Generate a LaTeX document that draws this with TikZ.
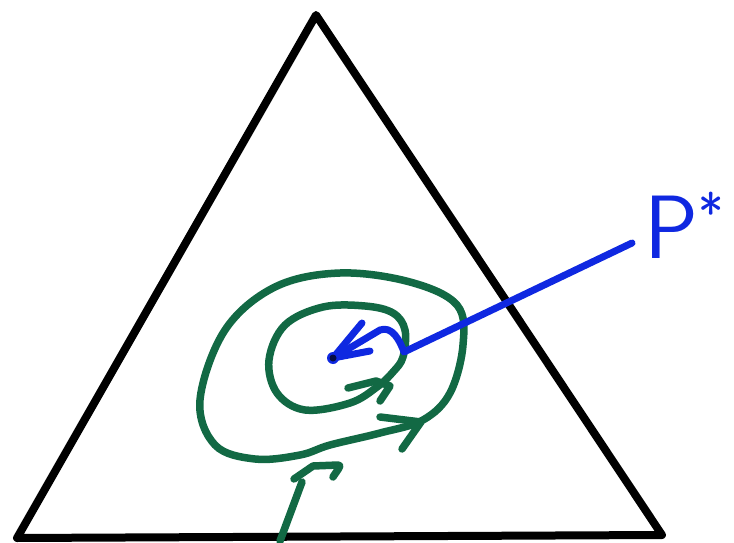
\documentclass[tikz,border=0pt]{standalone}
\usetikzlibrary{calc}
\definecolor{pgreen}{RGB}{18,105,68}
\definecolor{pblue}{RGB}{15,40,225}
\tikzset{
  tri/.style={line width=8pt, line join=round, line cap=round, black},
  gpen/.style={line width=7.5pt, line cap=round, line join=round, pgreen},
  bpen/.style={line width=7pt, line cap=round, line join=round, pblue},
  lab/.style={pblue, font=\fontsize{90}{90}\selectfont\sffamily, inner sep=0pt}
}
\begin{document}
\begin{tikzpicture}[x=1pt,y=-1pt]
\useasboundingbox (0,0) rectangle (734,543);
% triangle
\coordinate (top) at (316,15);
\coordinate (bl) at (17,538);
\coordinate (br) at (662,535);
\draw[tri] (top) -- (br) -- (bl) -- cycle;
% entry line and its arrow mark
\coordinate (entryA) at (280,541);
\coordinate (entryB) at (302,482);
\draw[gpen] (entryA) -- (entryB);
\draw[gpen] (294,479) -- (313,466) -- (338,465) to[out=10,in=60] (333,477);
% outer loop
\draw[gpen] plot[smooth cycle, tension=0.6] coordinates {
  (330,445) (380,433) (423,420) (450,393) (463,345) (457,305) (410,282)
  (340,273) (275,287) (225,330) (200,400) (215,445) (255,459) (300,455)};
\draw[gpen] (380,417) -- (421,422) -- (402,449);
% inner loop
\draw[gpen] plot[smooth cycle, tension=0.6] coordinates {
  (403,357) (405,330) (393,313) (365,306) (323,307) (285,325) (269,360)
  (277,393) (305,410) (350,403) (377,387) (393,372)};
\draw[gpen] (348,388) -- (376,381) -- (390,386) -- (380,401);
% P* label and blue arrow
\node[lab, anchor=base west] (pstar) at (644,258) {P\raisebox{26pt}{\fontsize{54}{54}\selectfont *}};
\coordinate (tail) at (632,243);
\coordinate (tip) at (333,358);
\draw[bpen] (tail) -- (404,352) to[out=110,in=20] (380,330) -- (tip);
\draw[bpen] (tip) -- (362,323);
\draw[bpen] (tip) -- (370,351);
\fill[pblue] (tip) circle (6pt);
\fill[black!70!pblue] (tip) circle (3.5pt);
\end{tikzpicture}
\end{document}
